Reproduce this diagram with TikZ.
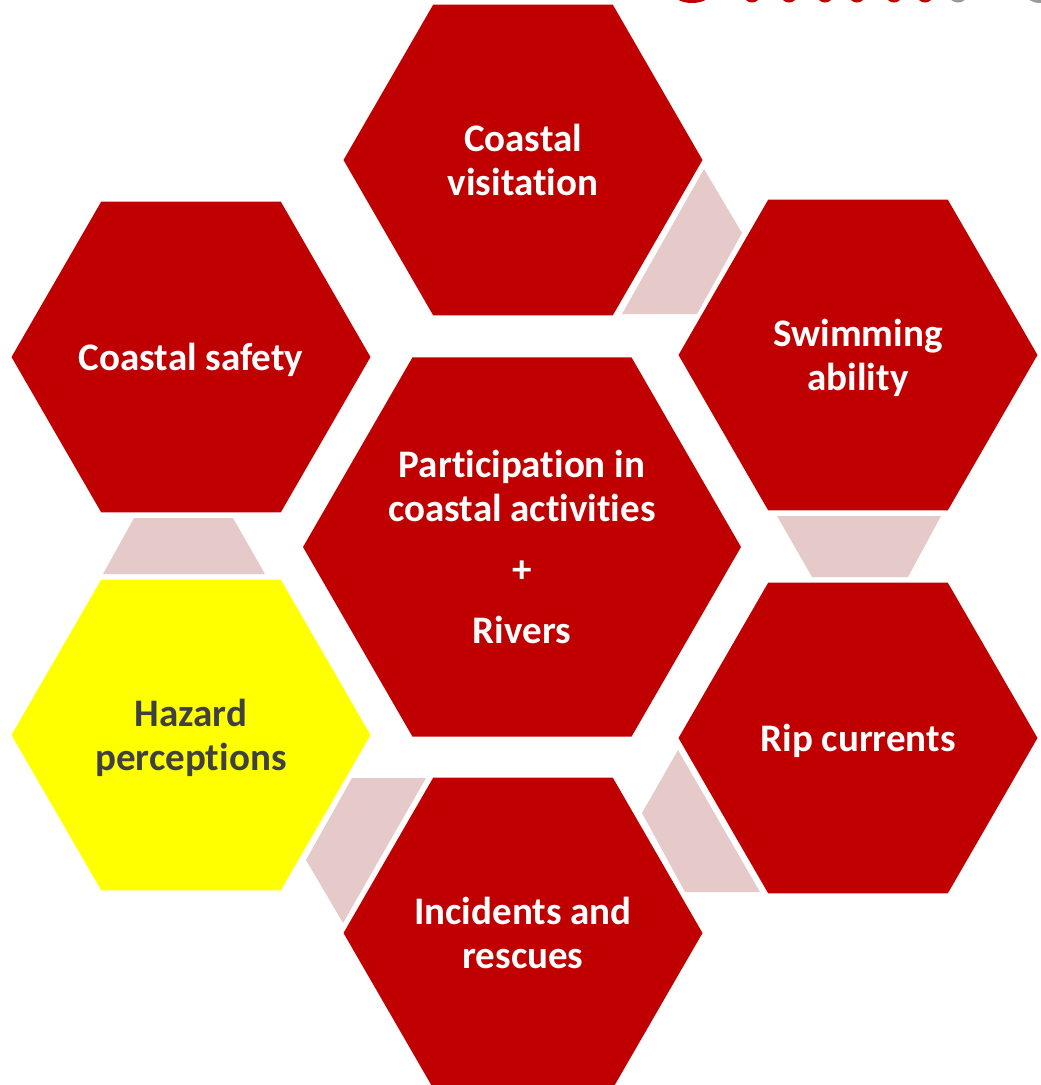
\documentclass[tikz,border=0pt]{standalone}
\usepackage{fontspec}
\setmainfont{Carlito}[Ligatures={NoCommon}]
\usetikzlibrary{shapes.geometric}
\definecolor{hexred}{HTML}{C00000}
\definecolor{linkpink}{HTML}{E6CACA}
\definecolor{hazyellow}{HTML}{FFFF00}
\definecolor{darktext}{HTML}{404040}
\definecolor{topgray}{HTML}{9A9A9A}
\newcommand{\hexlabel}[1]{\makebox[0pt]{\raisebox{-5pt}[\height][\depth]{\begin{tabular}{@{}c@{}}#1\end{tabular}}}}
\begin{document}
\begin{tikzpicture}[x=1pt,y=-1pt,
  hexbox/.style={regular polygon, regular polygon sides=6, minimum size=359pt,
    inner sep=0pt, outer sep=0pt, fill=hexred, text=white,
    font=\fontsize{39}{44}\selectfont\bfseries},
  bighex/.style={hexbox, minimum size=438pt},
  linkshape/.style={fill=linkpink},
  topmark/.style={fill=hexred}]
\useasboundingbox (0,0) rectangle (1041,1085);
\begin{scope}
\clip (0,0) rectangle (1041,1085);
% connector pieces
\fill[linkshape] (704,169) -- (742,233) -- (697,314) -- (622,314) -- cycle;
\fill[linkshape] (134,518) -- (233,518) -- (265,574) -- (103,574) -- cycle;
\fill[linkshape] (777,516) -- (941,516) -- (908,577) -- (812,577) -- cycle;
\fill[linkshape] (352,778) -- (426,778) -- (343,923) -- (306,860) -- cycle;
\fill[linkshape] (678,750) -- (760,892) -- (685,892) -- (642,813) -- cycle;
% hexagons
\node[bighex] (center) at (522,547) {\hexlabel{Participation in\\coastal activities\\[17pt]+\\[17pt]Rivers}};
\node[hexbox] (visit) at (523,160) {\hexlabel{Coastal\\visitation}};
\node[hexbox] (safety) at (191,357) {\hexlabel{Coastal safety}};
\node[hexbox] (swim) at (858,355) {\hexlabel{Swimming\\ability}};
\node[hexbox, fill=hazyellow, text=darktext] (hazard) at (191,735) {\hexlabel{Hazard\\perceptions}};
\node[hexbox] (rip) at (858,738) {\hexlabel{Rip currents}};
\node[hexbox] (incid) at (523,933) {\hexlabel{Incidents and\\rescues}};
% cut-off title marks at top edge
\fill[topmark] (692,-6) ellipse [x radius=18, y radius=9];
\foreach \xc in {752,789,825,857,894,925} {
  \fill[topmark] (\xc,-4) ellipse [x radius=7.5, y radius=6.5];
}
\fill[topgray] (958,-4) ellipse [x radius=8.5, y radius=6.5];
\fill[topgray] (1040,-6) ellipse [x radius=14, y radius=9];
\end{scope}
\end{tikzpicture}
\end{document}
